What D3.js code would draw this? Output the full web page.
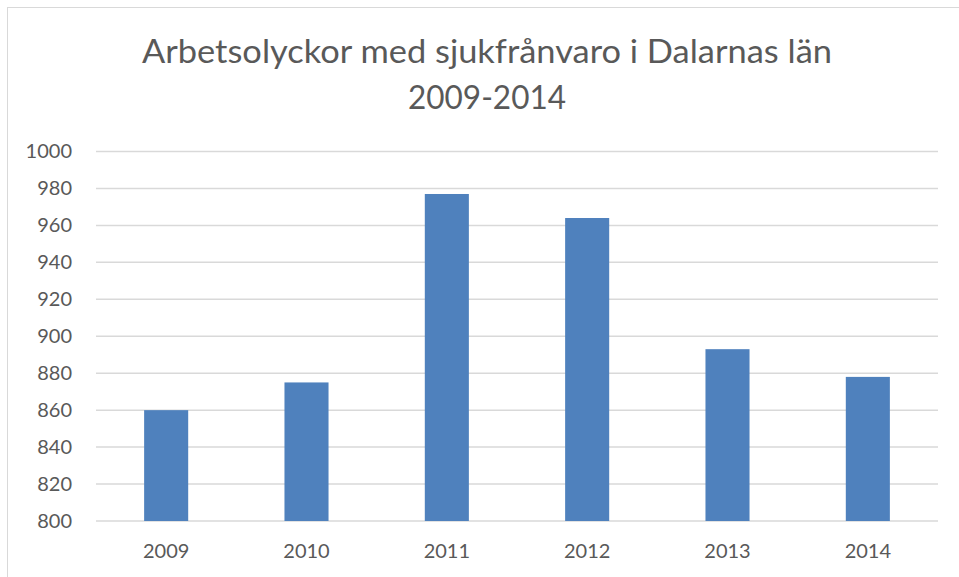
<!DOCTYPE html>
<html>
<head>
<meta charset="utf-8">
<script src="https://cdn.jsdelivr.net/npm/d3@7"></script>
<style>
  html, body { margin: 0; padding: 0; background: #fff; }
  svg { display: block; }
</style>
</head>
<body>
<div id="chart"></div>
<script>
// Data
const years = ["2009", "2010", "2011", "2012", "2013", "2014"];
const accidents = [860, 875, 977, 964, 893, 878];
const yTicks = [800, 820, 840, 860, 880, 900, 920, 940, 960, 980, 1000];
const titleLines = ["Arbetsolyckor med sjukfrånvaro i Dalarnas län", "2009-2014"];

const width = 959;
const height = 577;
const margin = { top: 151.5, right: 21, bottom: 56, left: 96 };
const textColor = "#595959";
const fontFamily = "Lato, 'Open Sans', sans-serif";

const svg = d3.select("#chart")
  .append("svg")
  .attr("width", width)
  .attr("height", height);

// outer chart-area border
svg.append("rect")
  .attr("x", 7.5)
  .attr("y", 7.5)
  .attr("width", width + 20)
  .attr("height", height + 20)
  .attr("fill", "#fff")
  .attr("stroke", "#d9d9d9")
  .attr("stroke-width", 1);

const x = d3.scaleBand()
  .domain(years)
  .range([margin.left, width - margin.right])
  .padding(0);

const y = d3.scaleLinear()
  .domain([800, 1000])
  .range([height - margin.bottom, margin.top]);

// gridlines
svg.append("g")
  .selectAll("line")
  .data(yTicks)
  .join("line")
  .attr("x1", margin.left)
  .attr("x2", width - margin.right)
  .attr("y1", (d) => y(d))
  .attr("y2", (d) => y(d))
  .attr("stroke", "#d9d9d9")
  .attr("stroke-width", 1.5);

// bars
const barWidth = x.bandwidth() * 0.314;
svg.append("g")
  .selectAll("rect")
  .data(years.map((yr, i) => ({ year: yr, value: accidents[i] })))
  .join("rect")
  .attr("x", (d) => x(d.year) + (x.bandwidth() - barWidth) / 2)
  .attr("y", (d) => y(d.value))
  .attr("width", barWidth)
  .attr("height", (d) => y(800) - y(d.value))
  .attr("fill", "#4f81bd");

// y axis
const yAxis = svg.append("g")
  .attr("transform", `translate(${margin.left},0)`)
  .call(d3.axisLeft(y).tickValues(yTicks).tickFormat(d3.format("d")).tickSize(0).tickPadding(24));
yAxis.select(".domain").remove();
yAxis.selectAll("text")
  .attr("fill", textColor)
  .attr("font-size", 20)
  .attr("font-family", fontFamily);

// x axis
const xAxis = svg.append("g")
  .attr("transform", `translate(0,${height - margin.bottom})`)
  .call(d3.axisBottom(x).tickSize(0));
xAxis.select(".domain").remove();
xAxis.selectAll("text")
  .attr("y", 37)
  .attr("dy", 0)
  .attr("fill", textColor)
  .attr("font-size", 20)
  .attr("font-family", fontFamily);

// title
svg.append("g")
  .selectAll("text")
  .data(titleLines)
  .join("text")
  .attr("x", 487)
  .attr("y", (d, i) => 62.5 + i * 46)
  .attr("text-anchor", "middle")
  .attr("fill", textColor)
  .attr("font-size", 33)
  .attr("font-family", fontFamily)
  .attr("textLength", (d, i) => (i === 0 ? 690 : 158))
  .attr("lengthAdjust", "spacingAndGlyphs")
  .text((d) => d);
</script>
</body>
</html>
